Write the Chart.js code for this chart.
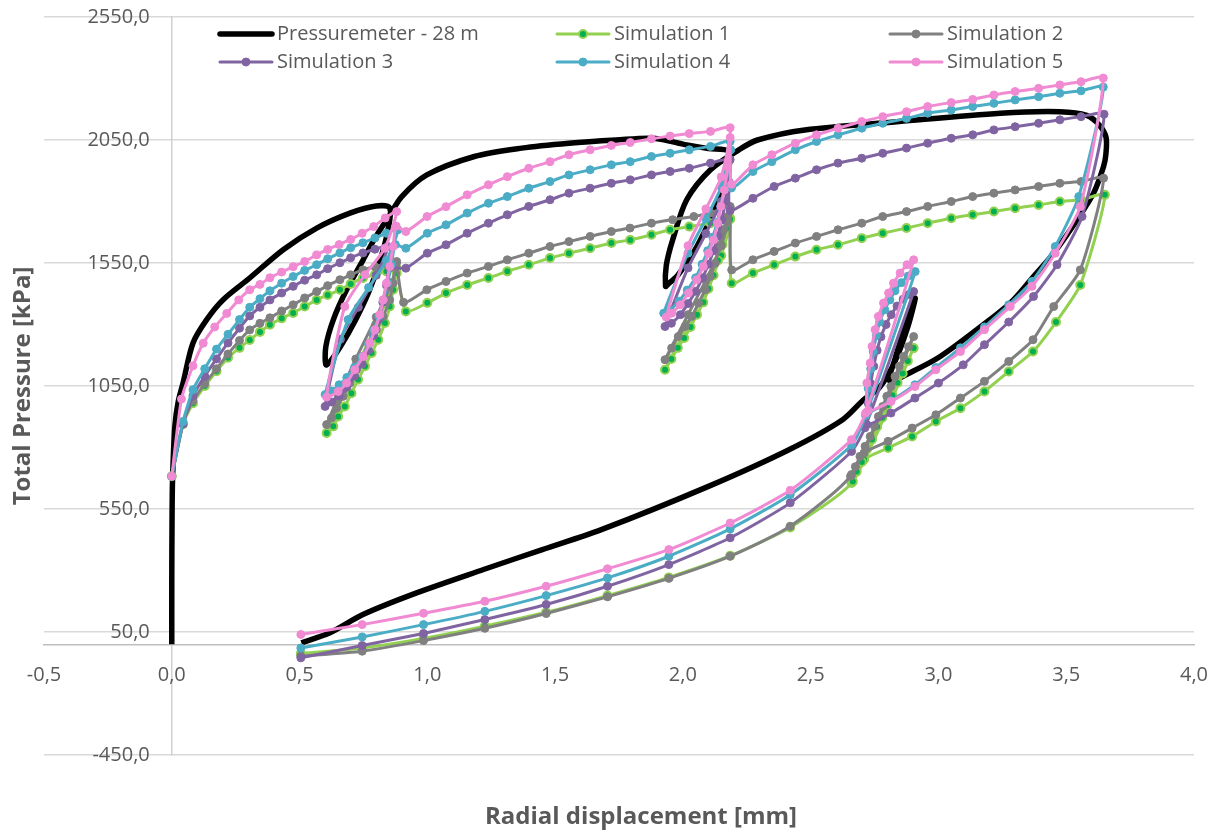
<!DOCTYPE html>
<html>
<head>
<meta charset="utf-8">
<script src="https://cdn.jsdelivr.net/npm/chart.js@4.4.0/dist/chart.umd.min.js"></script>
<style>
  html, body { margin: 0; padding: 0; background: #fff; }
  canvas { display: block; }
</style>
</head>
<body>
<canvas id="pmtChart" width="1218" height="832"></canvas>
<script>
// [radial displacement (mm), total pressure (kPa)]
const pressuremeter = [
  [0,0],[0,250],[0.001,500],[0.003,670],[0.012,886],[0.025,985],[0.044,1062],[0.083,1225],[0.136,1319],
  [0.2,1400],[0.305,1489],[0.436,1604],[0.567,1692],[0.697,1753],[0.80,1782],[0.853,1773],
  [0.845,1680],[0.815,1560],[0.77,1430],[0.715,1310],[0.66,1210],[0.62,1150],[0.603,1136],
  [0.603,1211],[0.632,1319],[0.684,1441],[0.749,1563],[0.80,1660],[0.85,1740],[0.90,1820],[0.998,1908],
  [1.184,1983],[1.369,2017],[1.554,2037],[1.738,2050],[1.886,2057],[2.015,2030],[2.10,2015],[2.182,2003],
  [2.18,1940],[2.15,1830],[2.10,1710],[2.04,1590],[1.98,1500],[1.94,1462],[1.932,1455],
  [1.935,1540],[1.96,1644],[2.015,1807],[2.108,1929],[2.219,2010],[2.292,2050],[2.477,2091],[2.846,2125],
  [3.242,2159],[3.475,2165],[3.58,2150],[3.63,2110],[3.656,2060],[3.655,1990],[3.646,1942],[3.607,1834],
  [3.542,1725],[3.451,1590],[3.372,1495],[3.281,1387],[3.15,1279],[3.007,1170],[2.90,1110],[2.81,1070],
  [2.83,1160],[2.86,1260],[2.909,1407],[2.88,1290],[2.83,1150],[2.77,1045],[2.707,994],[2.625,913],
  [2.415,791],[2.10,642],[1.681,466],[1.45,385],[1.22,304],[0.958,209],[0.748,121],[0.619,47],[0.507,6]
];

const sim1 = [
  [0,683],[0.044,895],[0.083,980],[0.129,1050],[0.175,1110],[0.22,1165],[0.265,1205],[0.305,1237],
  [0.345,1270],[0.384,1299],[0.43,1325],[0.475,1347],[0.52,1373],[0.567,1400],[0.61,1420],[0.658,1441],
  [0.70,1465],[0.748,1489],[0.795,1503],[0.84,1516],[0.88,1529],
  [0.86,1450],[0.80,1300],[0.72,1120],[0.65,965],[0.606,859],
  [0.632,886],[0.651,926],[0.677,967],[0.703,1021],[0.729,1076],[0.756,1130],[0.782,1184],[0.808,1238],
  [0.834,1306],[0.853,1373],[0.866,1441],[0.88,1509],
  [0.916,1353],[1.0,1388],[1.073,1428],[1.156,1461],[1.239,1489],[1.313,1516],[1.397,1543],[1.48,1570],
  [1.554,1590],[1.637,1610],[1.72,1631],[1.794,1644],[1.877,1665],[1.95,1685],[2.025,1698],[2.108,1712],[2.185,1732],
  [2.15,1580],[2.09,1440],[2.02,1300],[1.93,1116],
  [1.955,1160],[1.98,1205],[2.005,1245],[2.03,1290],[2.055,1340],[2.08,1390],[2.10,1445],[2.12,1500],
  [2.137,1560],[2.155,1625],[2.17,1690],[2.185,1728],
  [2.191,1468],[2.274,1509],[2.357,1543],[2.44,1576],[2.523,1604],[2.607,1624],[2.70,1651],[2.782,1671],
  [2.875,1692],[2.958,1712],[3.05,1732],[3.134,1746],[3.217,1759],[3.30,1773],[3.392,1786],[3.475,1800],
  [3.558,1807],[3.651,1827],
  [3.555,1461],[3.46,1310],[3.37,1190],[3.275,1109],[3.18,1028],[3.086,960],[2.99,906],[2.897,845],
  [2.803,798],[2.709,751],[2.66,656],
  [2.68,702],[2.70,741],[2.72,792],[2.74,833],[2.76,884],[2.78,921],[2.80,972],[2.82,1012],[2.84,1063],
  [2.86,1101],[2.88,1152],[2.903,1204],
  [2.665,662],
  [2.42,475],[2.185,360],[1.945,272],[1.705,198],[1.465,130],[1.225,74],[0.985,24],[0.745,-15],[0.505,-38]
];

const sim2 = [
  [0,683],[0.044,900],[0.083,990],[0.129,1060],[0.175,1120],[0.22,1180],[0.265,1235],[0.305,1278],
  [0.345,1305],[0.384,1327],[0.43,1355],[0.475,1380],[0.52,1408],[0.567,1434],[0.61,1458],[0.658,1482],
  [0.70,1502],[0.748,1522],[0.795,1535],[0.84,1546],[0.88,1556],
  [0.86,1470],[0.80,1330],[0.72,1160],[0.65,1000],[0.606,893],
  [0.625,920],[0.645,960],[0.671,1008],[0.697,1062],[0.723,1116],[0.749,1170],[0.775,1225],[0.801,1279],
  [0.827,1333],[0.853,1400],[0.866,1468],[0.879,1549],
  [0.907,1390],[0.998,1441],[1.073,1475],[1.156,1509],[1.239,1536],[1.313,1563],[1.397,1590],[1.48,1617],
  [1.554,1637],[1.637,1658],[1.72,1678],[1.793,1692],[1.877,1712],[1.96,1726],[2.043,1739],[2.108,1753],[2.185,1780],
  [2.15,1620],[2.09,1480],[2.02,1340],[1.93,1157],
  [1.956,1204],[1.982,1251],[2.009,1292],[2.035,1333],[2.061,1387],[2.087,1441],[2.107,1495],[2.126,1549],
  [2.139,1617],[2.159,1685],[2.175,1739],[2.185,1775],
  [2.191,1522],[2.274,1563],[2.357,1597],[2.44,1631],[2.523,1658],[2.607,1685],[2.70,1712],[2.782,1739],
  [2.875,1759],[2.958,1780],[3.05,1800],[3.134,1820],[3.217,1834],[3.30,1847],[3.392,1861],[3.475,1874],
  [3.558,1881],[3.646,1895],
  [3.555,1522],[3.451,1373],[3.37,1238],[3.275,1150],[3.18,1069],[3.086,1001],[2.99,933],[2.897,879],
  [2.803,825],[2.709,778],[2.656,683],
  [2.675,722],[2.693,764],[2.713,805],[2.733,845],[2.75,886],[2.765,926],[2.782,967],[2.798,1008],
  [2.814,1048],[2.83,1089],[2.847,1130],[2.863,1170],[2.883,1210],[2.903,1251],
  [2.66,690],
  [2.42,480],[2.185,358],[1.945,268],[1.705,193],[1.465,125],[1.225,65],[0.985,15],[0.745,-28],[0.505,-48]
];

const sim3 = [
  [0,683],[0.044,895],[0.083,1010],[0.129,1090],[0.175,1160],[0.22,1225],[0.265,1285],[0.305,1335],
  [0.345,1370],[0.384,1400],[0.43,1428],[0.475,1455],[0.52,1480],[0.567,1502],[0.61,1527],[0.658,1551],
  [0.70,1571],[0.748,1591],[0.795,1606],[0.845,1617],
  [0.80,1500],[0.73,1370],[0.66,1240],[0.60,967],
  [0.625,985],[0.655,1010],[0.685,1045],[0.715,1090],[0.745,1140],[0.77,1195],[0.79,1255],[0.81,1320],
  [0.826,1390],[0.84,1460],[0.852,1530],
  [0.916,1529],[1.0,1590],[1.073,1624],[1.156,1671],[1.239,1712],[1.313,1746],[1.397,1780],[1.48,1807],
  [1.554,1834],[1.637,1854],[1.72,1874],[1.794,1888],[1.877,1908],[1.95,1922],[2.025,1935],[2.108,1956],[2.185,1970],
  [2.15,1800],[2.09,1670],[2.02,1530],[1.93,1292],
  [1.955,1305],[1.99,1340],[2.02,1385],[2.05,1435],[2.077,1490],[2.10,1545],[2.12,1600],[2.137,1660],
  [2.152,1725],[2.167,1800],[2.18,1880],
  [2.185,1763],[2.274,1813],[2.357,1861],[2.44,1895],[2.523,1929],[2.607,1956],[2.70,1976],[2.782,1996],
  [2.875,2017],[2.958,2037],[3.05,2057],[3.134,2071],[3.217,2091],[3.30,2104],[3.392,2118],[3.475,2132],
  [3.558,2145],[3.648,2155],
  [3.562,1739],[3.464,1543],[3.372,1414],[3.275,1310],[3.18,1218],[3.097,1136],[3.0,1062],[2.908,1001],
  [2.814,940],[2.72,893],
  [2.725,980],[2.735,1060],[2.747,1130],[2.76,1195],[2.775,1250],[2.795,1300],[2.815,1340],[2.838,1375],
  [2.862,1403],[2.885,1422],[2.903,1434],
  [2.712,880],
  [2.66,784],[2.42,575],[2.185,433],[1.945,324],[1.705,236],[1.465,162],[1.225,101],[0.985,44],[0.745,-5],[0.505,-55]
];

const sim4 = [
  [0,683],[0.044,906],[0.083,1035],[0.129,1120],[0.175,1200],[0.22,1260],[0.265,1320],[0.305,1370],
  [0.345,1405],[0.384,1437],[0.43,1468],[0.475,1495],[0.52,1520],[0.567,1543],[0.61,1567],[0.658,1591],
  [0.70,1612],[0.748,1632],[0.795,1652],[0.84,1671],[0.885,1685],
  [0.84,1560],[0.77,1450],[0.69,1320],[0.60,1015],
  [0.625,1030],[0.655,1055],[0.685,1085],[0.715,1125],[0.745,1170],[0.77,1220],[0.79,1275],[0.81,1335],
  [0.828,1400],[0.845,1470],[0.86,1545],[0.875,1625],
  [0.916,1610],[1.0,1671],[1.073,1705],[1.156,1753],[1.239,1793],[1.313,1820],[1.397,1854],[1.48,1881],
  [1.554,1908],[1.637,1929],[1.72,1949],[1.794,1962],[1.877,1983],[1.95,1996],[2.025,2010],[2.108,2024],[2.185,2044],
  [2.15,1860],[2.09,1730],[2.02,1590],[1.925,1346],
  [1.95,1360],[1.985,1395],[2.017,1440],[2.05,1490],[2.075,1545],[2.097,1600],[2.117,1655],[2.134,1715],
  [2.148,1780],[2.162,1850],[2.175,1930],[2.187,2010],
  [2.19,1855],[2.274,1922],[2.348,1962],[2.44,2010],[2.523,2044],[2.607,2071],[2.70,2098],[2.782,2118],
  [2.875,2138],[2.958,2159],[3.05,2172],[3.134,2186],[3.217,2199],[3.30,2213],[3.392,2226],[3.475,2240],
  [3.558,2250],[3.645,2265],
  [3.549,1820],[3.457,1617],[3.366,1475],[3.275,1380],[3.18,1290],[3.086,1205],[2.99,1125],[2.908,1055],
  [2.814,990],[2.725,945],
  [2.725,1040],[2.735,1120],[2.745,1190],[2.757,1255],[2.77,1310],[2.79,1360],[2.81,1400],[2.83,1437],
  [2.855,1470],[2.882,1497],[2.909,1515],
  [2.715,930],
  [2.66,810],[2.42,608],[2.185,469],[1.945,358],[1.705,270],[1.465,198],[1.225,134],[0.985,80],[0.745,30],[0.505,-15]
];

const sim5 = [
  [0,683],[0.038,997],[0.083,1132],[0.123,1224],[0.168,1290],[0.215,1345],[0.262,1400],[0.305,1441],
  [0.345,1463],[0.384,1490],[0.43,1513],[0.475,1535],[0.52,1556],[0.567,1583],[0.61,1605],[0.655,1625],
  [0.70,1646],[0.745,1671],[0.79,1698],[0.835,1733],[0.88,1759],
  [0.834,1610],[0.756,1502],[0.677,1373],[0.606,1005],
  [0.651,1028],[0.684,1062],[0.716,1116],[0.749,1170],[0.775,1225],[0.795,1279],[0.814,1340],[0.827,1400],
  [0.84,1468],[0.853,1536],[0.866,1617],[0.878,1700],
  [0.916,1678],[0.999,1739],[1.073,1779],[1.156,1827],[1.239,1868],[1.313,1901],[1.397,1935],[1.48,1962],
  [1.554,1990],[1.637,2010],[1.72,2028],[1.794,2040],[1.877,2055],[1.95,2066],[2.025,2076],[2.108,2085],[2.185,2100],
  [2.15,1900],[2.09,1770],[2.02,1620],[1.935,1330],
  [1.956,1346],[1.99,1380],[2.022,1428],[2.054,1482],[2.08,1536],[2.10,1590],[2.12,1644],[2.136,1712],
  [2.149,1780],[2.162,1847],[2.175,1942],[2.185,2060],
  [2.19,1870],[2.274,1949],[2.348,1990],[2.44,2037],[2.523,2071],[2.607,2098],[2.70,2125],[2.782,2145],
  [2.875,2165],[2.958,2186],[3.05,2202],[3.134,2215],[3.217,2233],[3.30,2247],[3.392,2260],[3.475,2274],
  [3.558,2287],[3.645,2302],
  [3.555,1779],[3.457,1590],[3.366,1455],[3.281,1373],[3.18,1279],[3.086,1190],[2.99,1116],[2.908,1048],
  [2.814,987],[2.725,950],
  [2.72,1062],[2.733,1143],[2.74,1211],[2.752,1279],[2.765,1333],[2.785,1387],[2.805,1428],[2.824,1468],
  [2.85,1509],[2.877,1543],[2.903,1563],
  [2.715,940],
  [2.66,832],[2.42,626],[2.185,493],[1.945,385],[1.705,307],[1.465,236],[1.225,175],[0.985,126],[0.745,80],[0.505,40]
];

const seriesNames = ['Pressuremeter - 28 m', 'Simulation 1', 'Simulation 2', 'Simulation 3', 'Simulation 4', 'Simulation 5'];
const xTickValues = [-0.5, 0, 0.5, 1, 1.5, 2, 2.5, 3, 3.5, 4];
const yTickValues = [-450, 50, 550, 1050, 1550, 2050, 2550];

const toXY = arr => arr.map(p => ({ x: p[0], y: p[1] }));
const fmt = v => v.toFixed(1).replace('.', ',');

const TEXT = '#595959';
const FONT = '"Open Sans", "Noto Sans", sans-serif';

function simSet(label, data, line, dot, order) {
  return {
    label, data: toXY(data), order,
    showLine: true, borderColor: line, borderWidth: 3, tension: 0.2,
    pointRadius: 4, pointBorderWidth: line === dot ? 1 : 2,
    pointBackgroundColor: dot, pointBorderColor: line
  };
}

const datasets = [
  { label: seriesNames[0], data: toXY(pressuremeter), order: 6, showLine: true,
    borderColor: '#000000', borderWidth: 5.5, tension: 0.3, pointRadius: 0 },
  simSet(seriesNames[1], sim1, '#92d050', '#00b050', 5),
  simSet(seriesNames[2], sim2, '#808080', '#808080', 4),
  simSet(seriesNames[3], sim3, '#8064a2', '#8064a2', 3),
  simSet(seriesNames[4], sim4, '#4bacc6', '#4bacc6', 2),
  simSet(seriesNames[5], sim5, '#f08ad2', '#f08ad2', 1)
];

// tick labels sit beside the crossing axes, titles and a 3-column legend
const axisText = {
  id: 'axisText',
  afterDraw(chart) {
    const { ctx, scales: { x, y } } = chart;
    const x0 = x.getPixelForValue(0);
    const y0 = y.getPixelForValue(0);
    ctx.save();
    ctx.fillStyle = TEXT;
    ctx.font = '20px ' + FONT;
    ctx.textBaseline = 'middle';
    ctx.textAlign = 'right';
    y.ticks.forEach(t => ctx.fillText(fmt(t.value), x0 - 22, y.getPixelForValue(t.value)));
    ctx.textAlign = 'center';
    x.ticks.forEach(t => ctx.fillText(fmt(t.value), x.getPixelForValue(t.value), y0 + 31));

    ctx.font = 'bold 24px ' + FONT;
    ctx.fillText('Radial displacement [mm]', 641, 817);
    ctx.save();
    ctx.translate(23, 386);
    ctx.rotate(-Math.PI / 2);
    ctx.fillText('Total Pressure [kPa]', 0, 0);
    ctx.restore();

    // legend
    const cols = [220, 557, 890];
    const rows = [34, 62];
    ctx.font = '20px ' + FONT;
    ctx.textAlign = 'left';
    chart.data.datasets.forEach((ds, i) => {
      const lx = cols[i % 3];
      const ly = rows[Math.floor(i / 3)];
      ctx.strokeStyle = ds.borderColor;
      ctx.lineWidth = ds.borderWidth;
      ctx.lineCap = 'round';
      ctx.beginPath();
      ctx.moveTo(lx, ly);
      ctx.lineTo(lx + 52, ly);
      ctx.stroke();
      if (ds.pointRadius) {
        ctx.beginPath();
        ctx.arc(lx + 26, ly, ds.pointRadius, 0, Math.PI * 2);
        ctx.fillStyle = ds.pointBackgroundColor;
        ctx.fill();
        ctx.lineWidth = ds.pointBorderWidth;
        ctx.strokeStyle = ds.pointBorderColor;
        ctx.stroke();
      }
      ctx.fillStyle = TEXT;
      ctx.fillText(ds.label, lx + 57, ly);
    });
    ctx.restore();
  }
};

new Chart(document.getElementById('pmtChart'), {
  type: 'scatter',
  data: { datasets },
  options: {
    responsive: false,
    animation: false,
    devicePixelRatio: 1,
    layout: { padding: { left: 44, right: 24, top: 17, bottom: 77 } },
    plugins: { legend: { display: false }, tooltip: { enabled: false } },
    scales: {
      x: {
        type: 'linear', min: -0.5, max: 4, position: { y: 0 },
        grid: { display: false, drawTicks: false },
        border: { color: '#bfbfbf', width: 1.5 },
        ticks: { display: false },
        afterBuildTicks: s => { s.ticks = xTickValues.map(v => ({ value: v })); }
      },
      y: {
        type: 'linear', min: -450, max: 2550, position: { x: 0 },
        grid: { color: '#d9d9d9', lineWidth: 1.5, drawTicks: false },
        border: { color: '#d0d0d0', width: 1.5 },
        ticks: { display: false },
        afterBuildTicks: s => { s.ticks = yTickValues.map(v => ({ value: v })); }
      }
    }
  },
  plugins: [axisText]
});
</script>
</body>
</html>
